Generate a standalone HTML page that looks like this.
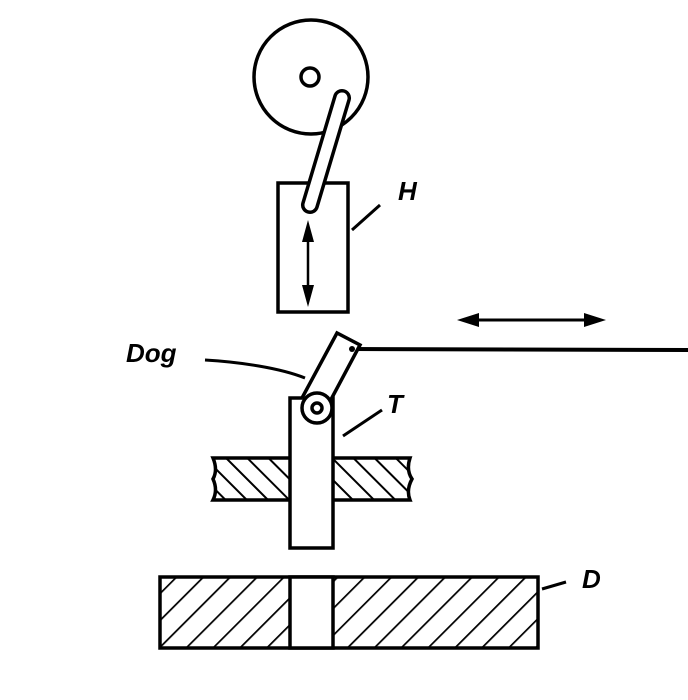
<!DOCTYPE html>
<html><head><style>body{margin:0;background:#fff}svg{display:block}</style></head><body>
<svg width="688" height="700" viewBox="0 0 688 700" xmlns="http://www.w3.org/2000/svg">
<defs>
<pattern id="hb" patternUnits="userSpaceOnUse" width="15" height="15" patternTransform="rotate(-45)"><line x1="0" y1="0" x2="0" y2="15" stroke="#000" stroke-width="4"/></pattern>
<pattern id="hf" patternUnits="userSpaceOnUse" width="19" height="19" patternTransform="rotate(45)"><line x1="0" y1="0" x2="0" y2="19" stroke="#000" stroke-width="3.5"/></pattern>
</defs>
<g fill="none" stroke="#000" stroke-width="3.5">
<circle cx="311" cy="77" r="57" fill="#fff"/>
<circle cx="310" cy="77" r="9"/>
<rect x="278" y="183" width="70" height="129" fill="#fff"/>
<path d="M335,96 L303,203 A7,7 0 0 0 317,207 L349,100 A7,7 0 0 0 335,96 Z" fill="#fff"/>
<line x1="308" y1="235" x2="308" y2="292" stroke-width="2.5"/>
<line x1="352" y1="230" x2="380" y2="205" stroke-width="3"/>
<path d="M205,360 C240,362 280,368 305,378" stroke-width="3"/>
<line x1="343" y1="436" x2="382" y2="410" stroke-width="3"/>
<line x1="542" y1="589" x2="566" y2="582" stroke-width="3"/>
<line x1="470" y1="320" x2="592" y2="320" stroke-width="3"/>
<line x1="352" y1="349" x2="688" y2="350" stroke-width="4"/>
<path d="M213,458 L410,458 Q406,470 412,479 Q406,490 410,500 L213,500 Q218,490 213,479 Q218,470 213,458 Z" fill="url(#hb)"/>
<rect x="290" y="398" width="43" height="150" fill="#fff"/>
<path d="M302,398 L337,333 L360,345 L327,407" fill="#fff"/>
<circle cx="317" cy="408" r="15" fill="#fff"/>
<circle cx="317" cy="408" r="5"/>
<rect x="160" y="577" width="378" height="71" fill="url(#hf)"/>
<rect x="290" y="577" width="43" height="71" fill="#fff"/>
</g>
<polygon points="308,220 302,242 314,242" fill="#000"/>
<polygon points="308,307 302,285 314,285" fill="#000"/>
<polygon points="457,320 479,313 479,327" fill="#000"/>
<polygon points="606,320 584,313 584,327" fill="#000"/>
<circle cx="352" cy="349" r="3" fill="#000"/>
<g font-family="Liberation Sans, sans-serif" font-style="italic" font-weight="bold" font-size="26">
<text x="398" y="200">H</text>
<text x="126" y="362">Dog</text>
<text x="387" y="413">T</text>
<text x="582" y="588">D</text>
</g>
</svg>
</body></html>
